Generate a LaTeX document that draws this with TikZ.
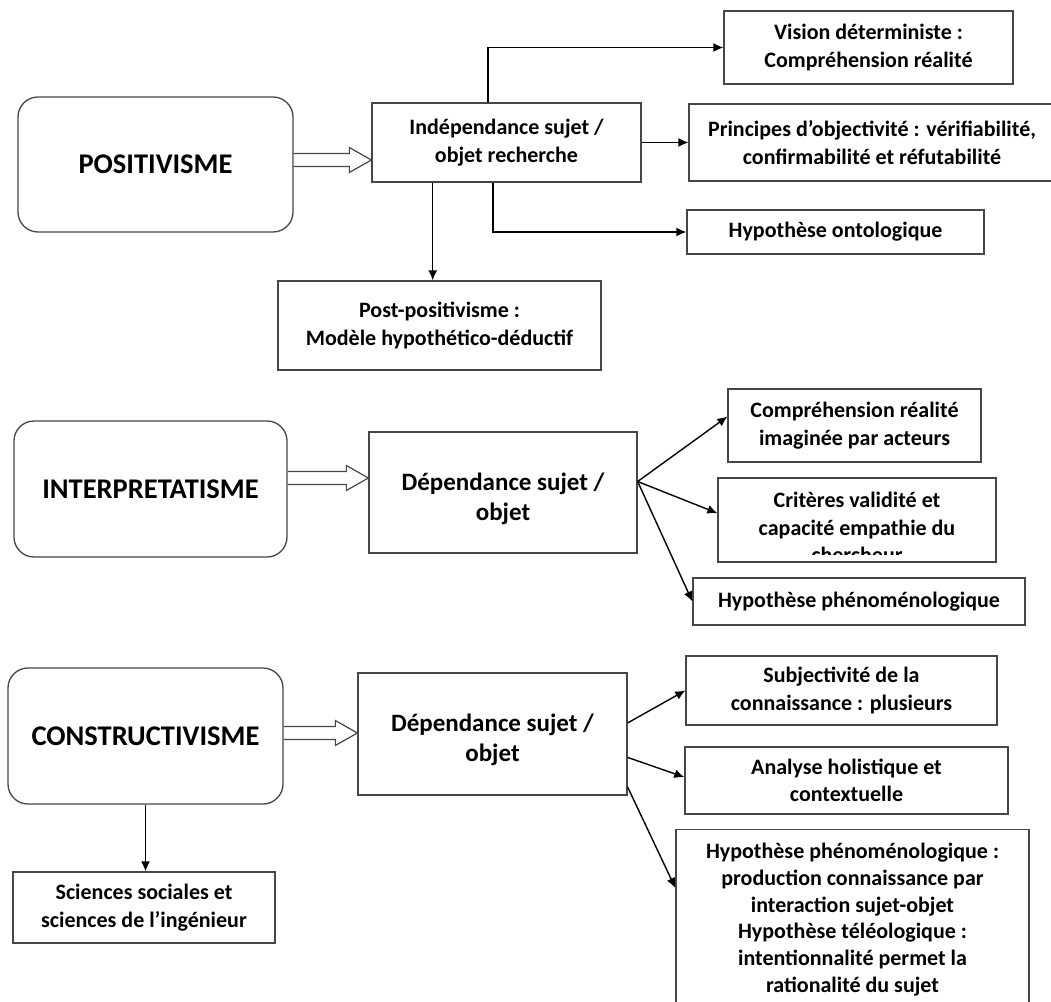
\documentclass[tikz,border=0pt]{standalone}
\usepackage{fontspec}
\setmainfont{Carlito}
\usetikzlibrary{arrows.meta,calc}
\definecolor{boxgray}{RGB}{70,70,70}
% wide open arrow between a paradigm and its first consequence
\newcommand\hollowarrow[2]{%
  \draw[hollow] ($(#1)+(0,-6.5)$) -- ($(#2)+(-22,-6.5)$) -- ($(#2)+(-22,-12.5)$)
    -- (#2) -- ($(#2)+(-22,12.5)$) -- ($(#2)+(-22,6.5)$) -- ($(#1)+(0,6.5)$);}
\begin{document}
\begin{tikzpicture}[x=1pt,y=-1pt,
  box/.style={draw=boxgray, line width=1.3pt, align=center, inner sep=0pt},
  para/.style={box, rounded corners=20pt, font=\fontsize{28.5}{32}\selectfont\bfseries},
  small/.style={font=\fontsize{22}{27.5}\selectfont\bfseries},
  mid/.style={font=\fontsize{25}{30}\selectfont\bfseries},
  arr/.style={draw=black, line width=1.4pt, -{Latex[length=10pt,width=9pt]}},
  hollow/.style={draw=boxgray, line width=1.2pt, line join=miter}
]
\useasboundingbox (0,0) rectangle (1051,1001);

% ---- Positivisme ----
\node[para, minimum width=275pt, minimum height=135pt] (pos) at (155.5,164.5) {POSITIVISME};
\node[box, small, minimum width=269pt, minimum height=79pt] (ind) at (506.5,142.5) {Indépendance sujet /\\objet recherche};
\node[box, small, minimum width=289pt, minimum height=73pt] (vis) at (868.5,47.5) {Vision déterministe :\\Compréhension réalité};
\node[box, small, minimum width=366pt, minimum height=77pt] (pri) at (872,142.5) {Principes d’objectivité : vérifiabilité,\\confirmabilité et réfutabilité};
\node[box, small, minimum width=297pt, minimum height=44pt] (ont) at (835.5,232) {Hypothèse ontologique};
\node[box, small, minimum width=323pt, minimum height=89pt] (post) at (439.5,325.5) {Post-positivisme :\\Modèle hypothético-déductif};

\coordinate (h1s) at ($(pos.east)+(0,-4.5)$);
\coordinate (h1e) at (h1s -| ind.west);
\hollowarrow{h1s}{h1e}
\draw[arr] ($(ind.north west)!0.431!(ind.north east)$) |- (vis.west);
\draw[arr] (ind.east) -- (pri.west);
\draw[arr] ($(ind.south west)!0.45!(ind.south east)$) |- (ont.west);
\coordinate (ps) at ($(ind.south west)!0.227!(ind.south east)$);
\draw[arr] (ps) -- (ps |- post.north);

% ---- Interpretatisme ----
\node[para, minimum width=273pt, minimum height=136pt] (int) at (150.5,489) {INTERPRETATISME};
\node[box, minimum width=268pt, minimum height=121pt] (dep2) at (503,492.5) {};
\node[mid, align=center, inner sep=0pt] (dep2text) at ($(dep2.center)+(0,6)$) {Dépendance sujet /\\objet};
\node[box, small, minimum width=253pt, minimum height=73pt] (comp) at (854.5,425.5) {Compréhension réalité\\imaginée par acteurs};
\node[box, minimum width=278pt, minimum height=84pt] (crit) at (857,520) {};
\begin{scope}
  \clip (crit.north west) rectangle ($(crit.south east)+(0,-8)$);
  \node[small, align=center, anchor=north, inner sep=0pt] (crittext) at ($(crit.north)+(0,15)$)
    {Critères validité et\\capacité empathie du\\chercheur};
\end{scope}
\node[box, small, minimum width=332pt, minimum height=47pt] (phen) at (859,601.5) {Hypothèse phénoménologique};

\coordinate (h2s) at ($(int.east)+(0,-11)$);
\coordinate (h2e) at (h2s -| dep2.west);
\hollowarrow{h2s}{h2e}
\coordinate (d2o) at ($(dep2.north east)!0.41!(dep2.south east)$);
\draw[arr] (d2o) -- ($(comp.north west)!0.38!(comp.south west)$);
\draw[arr] (d2o) -- ($(crit.north west)!0.42!(crit.south west)$);
\draw[arr] (d2o) -- (phen.west);

% ---- Constructivisme ----
\node[para, minimum width=275pt, minimum height=136pt] (cons) at (145.5,736) {CONSTRUCTIVISME};
\node[box, minimum width=269pt, minimum height=122pt] (dep3) at (492.5,734) {};
\node[mid, align=center, inner sep=0pt] (dep3text) at ($(dep3.center)+(0,6)$) {Dépendance sujet /\\objet};
\node[box, small, minimum width=262pt, minimum height=71pt] (sci) at (144,907.5) {Sciences sociales et\\sciences de l’ingénieur};
\node[box, small, minimum width=311pt, minimum height=69pt] (subj) at (841.5,690.5) {Subjectivité de la\\connaissance : plusieurs};
\node[box, small, minimum width=323pt, minimum height=67pt] (ana) at (846.5,780.5) {Analyse holistique et\\contextuelle};
\node[box, font=\fontsize{22}{26.8}\selectfont\bfseries, minimum width=353pt, minimum height=180pt, anchor=north] (hyp) at (852.5,829)
  {Hypothèse phénoménologique :\\production connaissance par\\interaction sujet-objet\\Hypothèse téléologique :\\intentionnalité permet la\\rationalité du sujet};

\coordinate (h3s) at ($(cons.east)+(0,-3)$);
\coordinate (h3e) at (h3s -| dep3.west);
\hollowarrow{h3s}{h3e}
\draw[arr] (cons.south) -- (cons.south |- sci.north);
\draw[arr] ($(dep3.north east)!0.41!(dep3.south east)$) -- (subj.west);
\draw[arr] ($(dep3.north east)!0.69!(dep3.south east)$) -- ($(ana.north west)!0.45!(ana.south west)$);
\draw[arr] ($(dep3.north east)!0.93!(dep3.south east)$) -- ($(hyp.north west)+(0,59)$);
\end{tikzpicture}
\end{document}
